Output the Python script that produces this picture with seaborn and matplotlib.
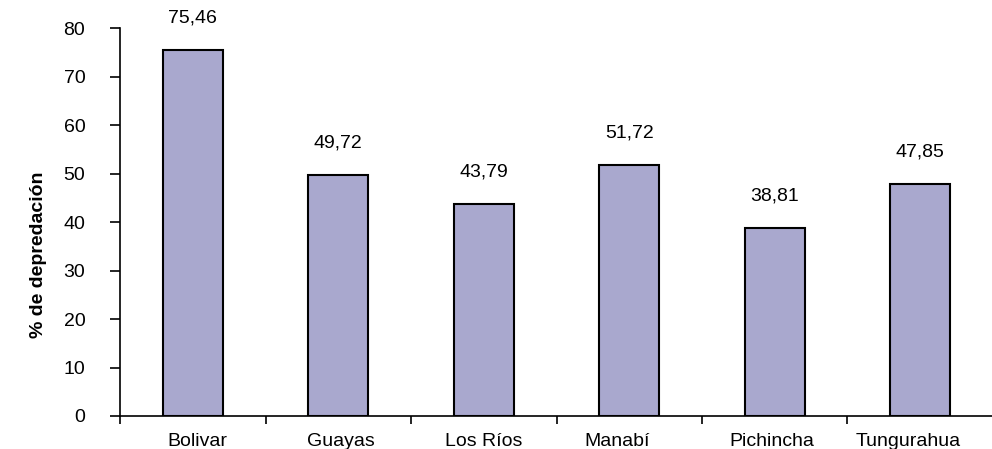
import matplotlib
matplotlib.use("Agg")
import matplotlib.pyplot as plt
import matplotlib.transforms as mtransforms
import seaborn as sns
import pandas as pd
import numpy as np

provincias = ["Bolivar", "Guayas", "Los Ríos", "Manabí", "Pichincha", "Tungurahua"]
depredacion = [75.46, 49.72, 43.79, 51.72, 38.81, 47.85]
y_ticks = [0, 10, 20, 30, 40, 50, 60, 70, 80]

sns.set_style("white")
plt.rcParams["font.family"] = ["Liberation Sans", "DejaVu Sans"]
plt.rcParams["text.color"] = "black"
plt.rcParams["xtick.color"] = "black"
plt.rcParams["ytick.color"] = "black"
plt.rcParams["axes.labelcolor"] = "black"

df = pd.DataFrame({"provincia": provincias, "valor": depredacion})

fig = plt.figure(figsize=(9.92, 4.49), dpi=100)
ax = fig.add_axes([0.121, 0.0735, 0.880, 0.864])

sns.barplot(data=df, x="provincia", y="valor", color="#A9A8CE", saturation=1,
            width=0.41, edgecolor="black", linewidth=1.5, ax=ax)

fs = 14
ax.set_xlim(-0.5, len(provincias) - 0.5)
ax.set_ylim(0, 80)
ax.set_yticks(y_ticks)
ax.set_yticklabels([str(v) for v in y_ticks], fontsize=fs)

# Ticks between categories, labels under each bar
ax.set_xticks(np.arange(len(provincias) + 1) - 0.5)
ax.set_xticklabels([])
ax.set_xticks(np.arange(len(provincias)), minor=True)
ax.set_xticklabels(provincias, minor=True, fontsize=fs)
ax.tick_params(axis="x", which="major", bottom=True, direction="out",
               length=6, width=1.2, color="black")
ax.tick_params(axis="x", which="minor", bottom=True, length=0, pad=12)
ax.tick_params(axis="y", which="major", left=True, direction="out",
               length=7, width=1.2, color="black", pad=18)

# slight horizontal nudges of a few category labels (in points)
nudges = {"Bolivar": 3, "Guayas": 2, "Manabí": -9, "Pichincha": -2, "Tungurahua": -9}
for lbl in ax.get_xticklabels(minor=True):
    dx = nudges.get(lbl.get_text(), 0)
    if dx:
        lbl.set_transform(lbl.get_transform() +
                          mtransforms.ScaledTranslation(dx / 72, 0, fig.dpi_scale_trans))

for s in ["top", "right"]:
    ax.spines[s].set_visible(False)
for s in ["left", "bottom"]:
    ax.spines[s].set_color("black")
    ax.spines[s].set_linewidth(1.2)

ax.set_xlabel("")
ax.set_ylabel("% de depredación", fontsize=fs, fontweight="bold")
ax.yaxis.set_label_coords(-0.084, 0.415)

for i, v in enumerate(depredacion):
    ax.annotate(f"{v:.2f}".replace(".", ","), (i, v), xytext=(0, 23),
                textcoords="offset points", ha="center", va="center", fontsize=fs)

fig.savefig("out.png", dpi=100)
